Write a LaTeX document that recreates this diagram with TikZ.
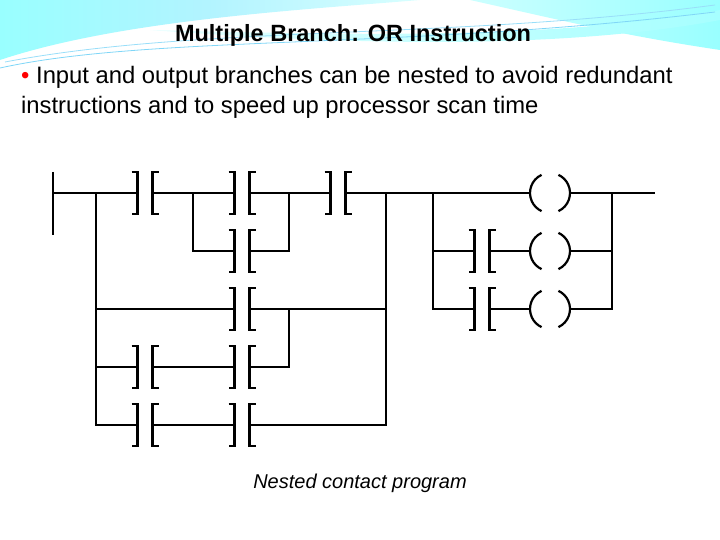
\documentclass[tikz,border=0pt]{standalone}
\usepackage{fontspec}
\setmainfont{Liberation Sans}
\begin{document}
\begin{tikzpicture}[x=1pt,y=1pt,
  wire/.style={line width=2.2pt},
  contact/.style={minimum width=15pt,minimum height=42pt,inner sep=0pt,outer sep=0pt},
  coil/.style={circle,minimum size=40pt,inner sep=0pt,outer sep=0pt}]
\useasboundingbox (0,0) rectangle (720,540);
% background swoosh
\shade[left color=cyan!40!white,right color=cyan!15!white,middle color=blue!15!cyan!30!white]
  (0,540) -- (0,480) .. controls (120,520) and (300,530) .. (420,540) -- cycle;
\shade[left color=cyan!20!white,right color=cyan!40!white]
  (470,540) .. controls (560,520) and (620,505) .. (720,490) -- (720,540) -- cycle;
\shade[left color=cyan!10!white,right color=cyan!35!white]
  (150,510) .. controls (350,505) and (550,500) .. (720,530) -- (720,520) .. controls (560,490) and (350,495) .. (150,510);
\draw[cyan!40!white,line width=0.8pt] (5,478) .. controls (200,515) and (450,500) .. (715,535);
\draw[cyan!50!white,line width=0.8pt] (0,472) .. controls (150,505) and (400,490) .. (715,528);
% texts
\node[font=\bfseries\fontsize{23.5}{26}\selectfont] (title) at (353,505) {Multiple Branch: OR Instruction};
\node[anchor=north west,align=left,font=\fontsize{23.8}{30}\selectfont,inner sep=0pt] (txt) at (21,474)
  {{\color{red}\textbullet} Input and output branches can be nested to avoid redundant\\instructions and to speed up processor scan time};
\node[font=\itshape\fontsize{20}{22}\selectfont] (cap) at (360,57) {Nested contact program};
% nodes
\node[contact] (c1) at (145,347) {};
\node[contact] (c2) at (242,347) {};
\node[contact] (c3) at (338,347) {};
\node[contact] (c4) at (242,289) {};
\node[contact] (c5) at (242,231) {};
\node[contact] (c6) at (145,173) {};
\node[contact] (c7) at (242,173) {};
\node[contact] (c8) at (145,115) {};
\node[contact] (c9) at (242,115) {};
\node[contact] (c10) at (482,289) {};
\node[contact] (c11) at (482,231) {};
\node[coil] (o1) at (550,347) {};
\node[coil] (o2) at (550,289) {};
\node[coil] (o3) at (550,231) {};
\foreach \n in {c1,c2,c3,c4,c5,c6,c7,c8,c9,c10,c11}{
  \draw[wire] (\n.north west) ++(-6,0) -- (\n.north west) -- (\n.south west) -- ++(-6,0);
  \draw[wire] (\n.north east) ++(6,0) -- (\n.north east) -- (\n.south east) -- ++(6,0);
}
\foreach \n in {o1,o2,o3}{
  \draw[wire] (\n.center) ++(115:20) arc (115:245:20);
  \draw[wire] (\n.center) ++(-65:20) arc (-65:65:20);
}
% coordinates
\coordinate (railT) at (53,368); \coordinate (railB) at (53,305);
\coordinate (a) at (96,347); \coordinate (a5) at (96,115);
\coordinate (n1) at (193,347); \coordinate (n2) at (289,347);
\coordinate (m) at (289,231); \coordinate (j) at (386,347); \coordinate (j5) at (386,115);
\coordinate (k) at (433,347); \coordinate (k3) at (433,231);
\coordinate (r) at (612,347); \coordinate (r3) at (612,231); \coordinate (e) at (655,347);
% wires
\draw[wire] (railT) -- (railB);
\draw[wire] (53,347) -- (c1.west);
\draw[wire] (c1.east) -- (c2.west);
\draw[wire] (c2.east) -- (c3.west);
\draw[wire] (c3.east) -- (o1.west);
\draw[wire] (o1.east) -- (e);
\draw[wire] (a) -- (a5) -- (c8.west);
\draw[wire] (n1) |- (c4.west);
\draw[wire] (n2) |- (c4.east);
\draw[wire] (96,231) -- (c5.west);
\draw[wire] (c5.east) -- (j |- c5);
\draw[wire] (96,173) -- (c6.west);
\draw[wire] (c6.east) -- (c7.west);
\draw[wire] (c7.east) -| (m);
\draw[wire] (c8.east) -- (c9.west);
\draw[wire] (c9.east) -- (j5) -- (j);
\draw[wire] (k) |- (c11.west);
\draw[wire] (433,289) -- (c10.west);
\draw[wire] (c10.east) -- (o2.west);
\draw[wire] (c11.east) -- (o3.west);
\draw[wire] (o2.east) -- (612,289);
\draw[wire] (o3.east) -- (r3) -- (r);
\end{tikzpicture}
\end{document}
